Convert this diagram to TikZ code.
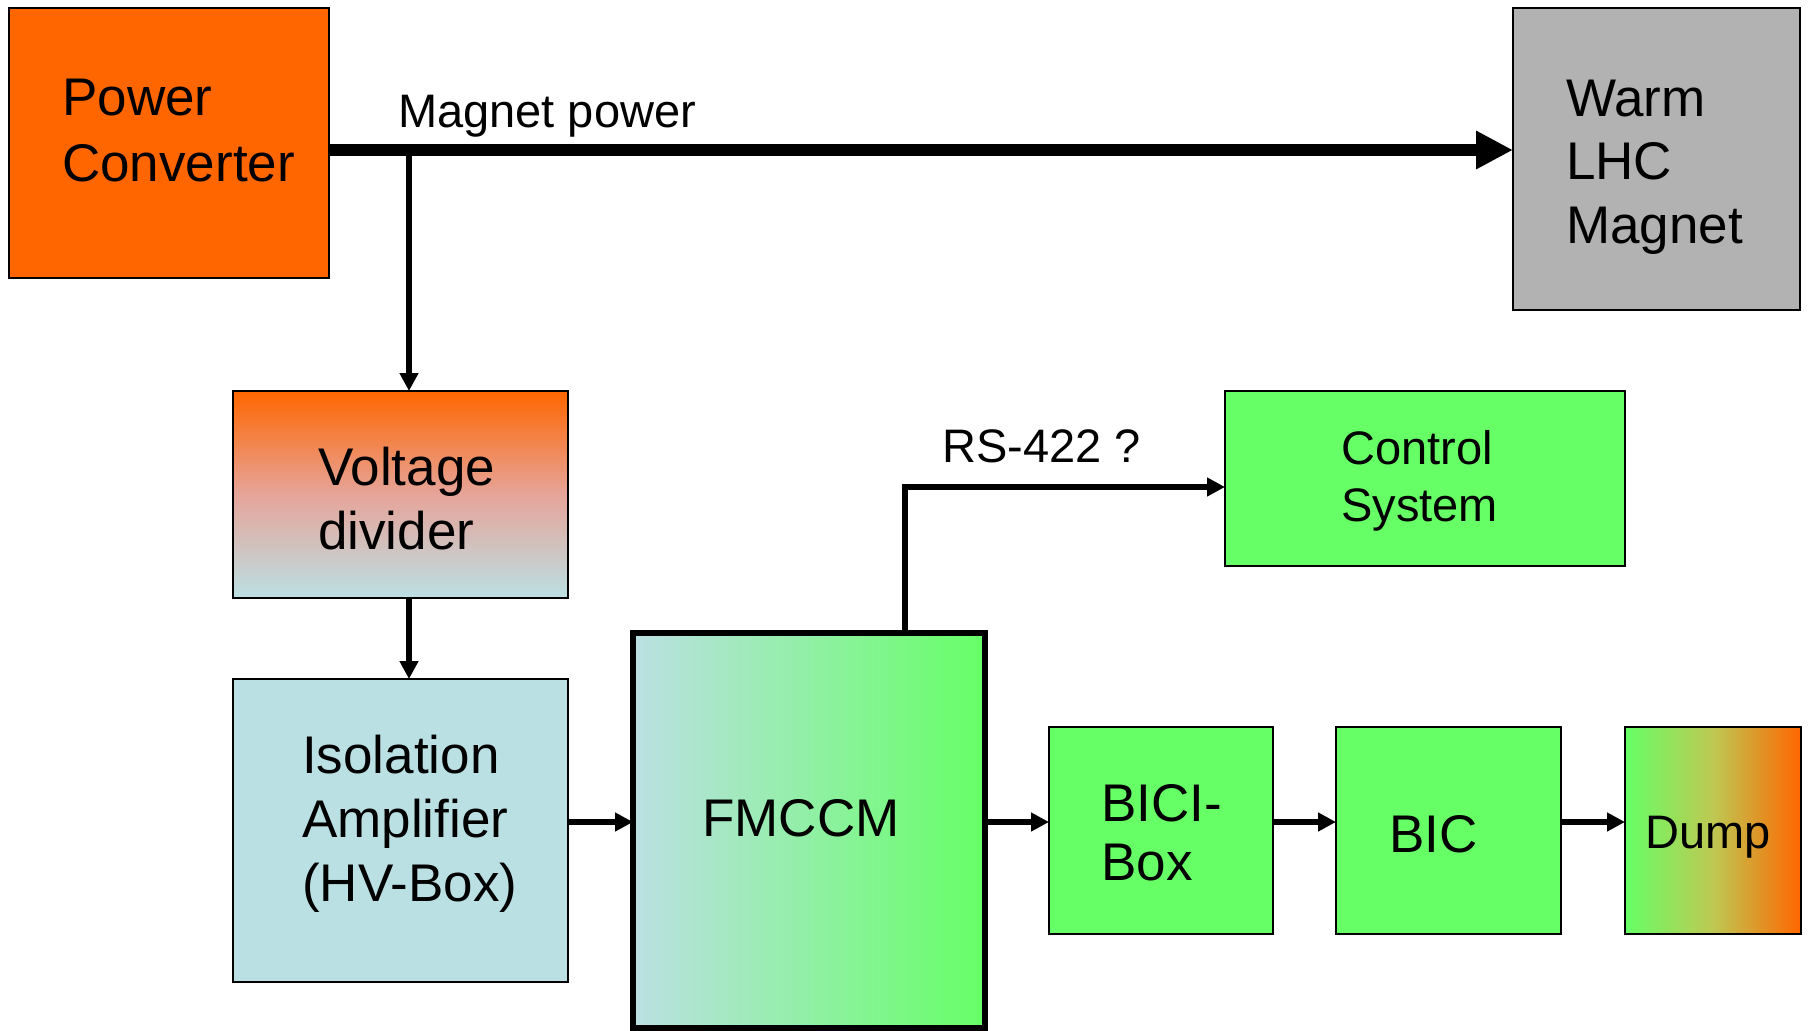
\documentclass[tikz,border=0pt]{standalone}
\usepackage{fontspec}
\setmainfont{Liberation Sans}
\usetikzlibrary{arrows.meta}
\definecolor{pcorange}{HTML}{FF6600}
\definecolor{mgray}{HTML}{B2B2B2}
\definecolor{bgreen}{HTML}{66FF66}
\definecolor{lblue}{HTML}{BBE0E3}
\definecolor{salmon}{HTML}{E6A49A}
\definecolor{dumpmid}{HTML}{BEC852}
\tikzset{
  box/.style={draw=black, line width=2pt, rectangle, inner sep=0pt, outer sep=0pt},
  bigtxt/.style={inner sep=0pt, anchor=base west, align=left, font=\fontsize{53}{64}\selectfont},
  smalltxt/.style={inner sep=0pt, anchor=base west, align=left, font=\fontsize{47}{57}\selectfont},
  thinarrow/.style={draw=black, line width=6pt, -{Triangle[length=18pt,width=18pt]}},
  thickarrow/.style={draw=black, line width=11.5pt, -{Triangle[length=37pt,width=36pt]}}
}
\begin{document}
\begin{tikzpicture}[x=1pt,y=-1pt]
\useasboundingbox (0,0) rectangle (1808,1031);
% boxes
\node[box, fill=pcorange, minimum width=320pt, minimum height=270pt] (pc) at (169,143) {};
\node[box, fill=mgray, minimum width=287pt, minimum height=302pt] (wlm) at (1656.5,159) {};
\node[box, top color=pcorange, bottom color=lblue, middle color=salmon, minimum width=335pt, minimum height=207pt] (vd) at (400.5,494.5) {};
\node[box, fill=lblue, minimum width=335pt, minimum height=303pt] (iso) at (400.5,830.5) {};
\node[box, line width=5.5pt, left color=lblue, right color=bgreen, minimum width=352pt, minimum height=395pt] (fm) at (809,830.5) {};
\node[box, fill=bgreen, minimum width=400pt, minimum height=175pt] (cs) at (1425,478.5) {};
\node[box, fill=bgreen, minimum width=224pt, minimum height=207pt] (bici) at (1161,830.5) {};
\node[box, fill=bgreen, minimum width=225pt, minimum height=207pt] (bic) at (1448.5,830.5) {};
\node[box, left color=bgreen, right color=pcorange, middle color=dumpmid, minimum width=176pt, minimum height=207pt] (dump) at (1713,830.5) {};
% texts (base anchor = baseline of last line)
\node[bigtxt, font=\fontsize{53}{66}\selectfont] (pct) at (62,181) {Power\\Converter};
\node[bigtxt, font=\fontsize{53}{63.5}\selectfont] (wlmt) at (1566,243) {Warm\\LHC\\Magnet};
\node[bigtxt] (vdt) at (318,549) {Voltage\\divider};
\node[bigtxt] (isot) at (302,901) {Isolation\\Amplifier\\(HV-Box)};
\node[bigtxt] (fmt) at (702,836) {FMCCM};
\node[smalltxt] (cst) at (1341,521) {Control\\System};
\node[bigtxt, font=\fontsize{53}{59}\selectfont] (bicit) at (1101,880) {BICI-\\Box};
\node[bigtxt] (bict) at (1389,852) {BIC};
\node[smalltxt] (dumpt) at (1645,848) {Dump};
\node[smalltxt] (mpt) at (398,127) {Magnet power};
\node[smalltxt] (rst) at (942,462) {RS-422 ?};
% connectors
\coordinate (mp) at (409,150);
\coordinate (rs) at (905,487);
\coordinate (ay) at (0,822);
\draw[thickarrow] (pc.east |- mp) -- (wlm.west |- mp);
\draw[thinarrow] (mp) -- (mp |- vd.north);
\draw[thinarrow] (vd.south -| mp) -- (iso.north -| mp);
\draw[thinarrow] (iso.east |- ay) -- (fm.west |- ay);
\draw[thinarrow] (fm.east |- ay) -- (bici.west |- ay);
\draw[thinarrow] (bici.east |- ay) -- (bic.west |- ay);
\draw[thinarrow] (bic.east |- ay) -- (dump.west |- ay);
\draw[thinarrow] (fm.north -| rs) |- (cs.west |- rs);
\end{tikzpicture}
\end{document}
